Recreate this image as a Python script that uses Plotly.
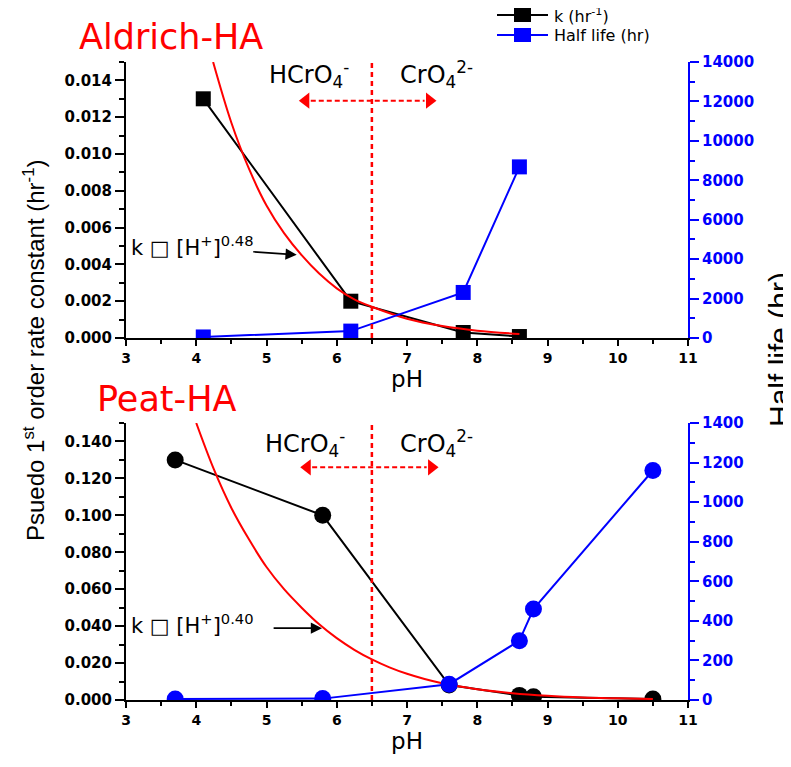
import plotly.graph_objects as go

# ---------------- data ----------------
ph_aldrich = [4.1, 6.2, 7.8, 8.6]
k_aldrich = [0.0130, 0.0020, 0.0003, 0.00008]
halflife_aldrich = [53, 350, 2310, 8680]

fit_ph_aldrich = [4.24, 4.5, 4.75, 5.0, 5.25, 5.5, 5.75, 6.0, 6.25, 6.5, 7.0, 7.5, 8.0, 8.6]
fit_k_aldrich = [0.0150, 0.0117, 0.0092, 0.0072, 0.0057, 0.0045, 0.0035, 0.0027, 0.0021,
                 0.0017, 0.00105, 0.00065, 0.00040, 0.00022]

ph_peat = [3.7, 5.8, 7.6, 8.6, 8.8, 10.5]
k_peat = [0.130, 0.100, 0.0081, 0.0025, 0.0018, 0.0005]
halflife_peat = [5, 7, 80, 300, 460, 1160]

fit_ph_peat = [4.0, 4.25, 4.5, 4.75, 5.0, 5.25, 5.5, 5.75, 6.0, 6.25, 6.5, 6.75, 7.0, 7.25,
               7.5, 7.75, 8.0, 8.5, 9.0, 9.5, 10.0, 10.5]
fit_k_peat = [0.150, 0.125, 0.104, 0.087, 0.072, 0.060, 0.050, 0.041, 0.0335, 0.0272, 0.0220,
              0.0177, 0.0142, 0.0114, 0.0091, 0.0073, 0.0058, 0.0037, 0.0023, 0.0014, 0.0009, 0.0005]

x_ticks = list(range(3, 12))
k_ticks_aldrich = [0.000, 0.002, 0.004, 0.006, 0.008, 0.010, 0.012, 0.014]
k_ticks_peat = [0.000, 0.020, 0.040, 0.060, 0.080, 0.100, 0.120, 0.140]
hl_ticks_aldrich = [0, 2000, 4000, 6000, 8000, 10000, 12000, 14000]
hl_ticks_peat = [0, 200, 400, 600, 800, 1000, 1200, 1400]

legend_names = ["k (hr<sup>-1</sup>)", "Half life (hr)"]
legend_colors = ["black", "blue"]

pka_ph = 6.5

# ---------------- figure ----------------
OFF = 8                # page body margin
W, H = 791 - OFF, 767 - OFF
TICKFONT = "DejaVu Sans"
TXT = "DejaVu Sans"

fig = go.Figure()

# Aldrich
fig.add_trace(go.Scatter(x=ph_aldrich, y=k_aldrich, mode="lines+markers", name=legend_names[0],
                         line=dict(color="black", width=2),
                         marker=dict(symbol="square", size=15, color="black"),
                         xaxis="x", yaxis="y"))
fig.add_trace(go.Scatter(x=fit_ph_aldrich, y=fit_k_aldrich, mode="lines",
                         line=dict(color="red", width=2, shape="spline"),
                         xaxis="x", yaxis="y"))
fig.add_trace(go.Scatter(x=ph_aldrich, y=halflife_aldrich, mode="lines+markers", name=legend_names[1],
                         line=dict(color="blue", width=2),
                         marker=dict(symbol="square", size=15, color="blue"),
                         xaxis="x", yaxis="y2"))
# Peat
fig.add_trace(go.Scatter(x=ph_peat, y=k_peat, mode="lines+markers",
                         line=dict(color="black", width=2),
                         marker=dict(symbol="circle", size=17, color="black"),
                         xaxis="x2", yaxis="y3"))
fig.add_trace(go.Scatter(x=fit_ph_peat, y=fit_k_peat, mode="lines",
                         line=dict(color="red", width=2, shape="spline"),
                         xaxis="x2", yaxis="y3"))
fig.add_trace(go.Scatter(x=ph_peat, y=halflife_peat, mode="lines+markers",
                         line=dict(color="blue", width=2),
                         marker=dict(symbol="circle", size=17, color="blue"),
                         xaxis="x2", yaxis="y4"))


def px_x(p):
    return (p - OFF) / W


def px_y(p):
    return 1 - (p - OFF) / H


xdom = [px_x(126), px_x(688)]
top_dom = [px_y(338), px_y(62)]
bot_dom = [px_y(700), px_y(423)]

tickfont_x = dict(family=TICKFONT, size=14, color="black", weight="bold")
tickfont_y = dict(family=TICKFONT, size=15, color="black", weight="bold")
tickfont_b = dict(family=TICKFONT, size=15, color="blue", weight="bold")


def xaxis(anchor):
    return dict(domain=xdom, range=[3, 11], tickvals=x_ticks, ticks="outside", ticklen=6, tickwidth=2,
                tickcolor="black", showline=True, linecolor="black", linewidth=2, showgrid=False,
                zeroline=False, tickfont=tickfont_x, anchor=anchor, automargin=False,
                minor=dict(dtick=0.5, ticks="outside", ticklen=4, tickwidth=2, tickcolor="black", showgrid=False),
                title=dict(text="pH", font=dict(family=TXT, size=23, color="black"), standoff=0))


def kaxis(dom, rng, tv, minor_dt, anchor):
    return dict(domain=dom, range=rng, tickvals=tv, tickformat=".3f", ticks="outside", ticklen=9, tickwidth=2,
                tickcolor="black", showline=True, linecolor="black", linewidth=2, showgrid=False,
                zeroline=False, tickfont=tickfont_y, anchor=anchor, automargin=False,
                minor=dict(dtick=minor_dt, ticks="outside", ticklen=5, tickwidth=2, tickcolor="black", showgrid=False))


def hlaxis(rng, tv, minor_dt, overlay, anchor):
    return dict(range=rng, tickvals=tv, tickformat="d", ticks="outside", ticklen=9, tickwidth=2, tickcolor="blue",
                showline=True, linecolor="blue", linewidth=2, showgrid=False, zeroline=False,
                tickfont=tickfont_b, overlaying=overlay, side="right", anchor=anchor, automargin=False,
                minor=dict(dtick=minor_dt, ticks="outside", ticklen=5, tickwidth=2, tickcolor="blue", showgrid=False))


fig.update_layout(
    width=W, height=H, margin=dict(l=0, r=0, t=0, b=0, autoexpand=False),
    plot_bgcolor="white", paper_bgcolor="white",
    xaxis=xaxis("y"),
    yaxis=kaxis(top_dom, [0, 0.015], k_ticks_aldrich, 0.001, "x"),
    yaxis2=hlaxis([0, 14000], hl_ticks_aldrich, 1000, "y", "x"),
    xaxis2=xaxis("y3"),
    yaxis3=kaxis(bot_dom, [0, 0.15], k_ticks_peat, 0.01, "x2"),
    yaxis4=hlaxis([0, 1400], hl_ticks_peat, 100, "y3", "x2"),
    showlegend=False,
)


def note(x, y, text, font, **kw):
    fig.add_annotation(xref="paper", yref="paper", x=px_x(x), y=px_y(y), text=text, showarrow=False,
                       xanchor=kw.pop("xanchor", "center"), yanchor=kw.pop("yanchor", "middle"),
                       font=font, **kw)


# manual legend
for i, (name, col) in enumerate(zip(legend_names, legend_colors)):
    yc = 15 + 20 * i
    fig.add_shape(type="line", xref="paper", yref="paper", x0=px_x(497), x1=px_x(548),
                  y0=px_y(yc), y1=px_y(yc), line=dict(color=col, width=2))
    fig.add_shape(type="rect", xref="paper", yref="paper", x0=px_x(514), x1=px_x(531),
                  y0=px_y(yc + 7), y1=px_y(yc - 7), fillcolor=col, line=dict(width=0))
    note(552, yc, name, dict(family=TXT, size=16, color="black"), xanchor="left")

# vertical dotted pKa lines
for xr, yr in (("x", "y domain"), ("x2", "y3 domain")):
    fig.add_shape(type="line", xref=xr, yref=yr, x0=pka_ph, x1=pka_ph, y0=0, y1=1,
                  line=dict(color="red", width=2.5, dash="5px,4px"))

# species arrows and labels
species = [
    ("x", "y", 0.0129, 0.0143, 5.48, 7.40, 5.60, 7.42),
    ("x2", "y3", 0.126, 0.139, 5.50, 7.43, 5.55, 7.42),
]
for xr, yr, ay, ty, xl, xrgt, hx, cx in species:
    fig.add_shape(type="line", xref=xr, yref=yr, x0=xl + 0.15, x1=xrgt - 0.15, y0=ay, y1=ay,
                  line=dict(color="red", width=2, dash="5px,3px"))
    fig.add_trace(go.Scatter(x=[xl + 0.08, xrgt - 0.08], y=[ay, ay], mode="markers",
                             marker=dict(symbol=["triangle-left", "triangle-right"], size=14, color="red"),
                             xaxis=xr, yaxis=yr, hoverinfo="skip"))
    fig.add_annotation(xref=xr, yref=yr, x=hx, y=ty, text="HCrO<sub>4</sub><sup>-</sup>", showarrow=False,
                       xanchor="center", yanchor="middle", font=dict(family=TXT, size=24, color="black"))
    fig.add_annotation(xref=xr, yref=yr, x=cx, y=ty, text="CrO<sub>4</sub><sup>2-</sup>", showarrow=False,
                       xanchor="center", yanchor="middle", font=dict(family=TXT, size=24, color="black"))

# fit labels with arrows
fits = [
    ("x", "y", "k \u25a1 [H<sup>+</sup>]<sup>0.48</sup>", 3.95, 0.0050, 4.79, 0.00469, 5.43, 0.00452),
    ("x2", "y3", "k \u25a1 [H<sup>+</sup>]<sup>0.40</sup>", 3.95, 0.041, 5.08, 0.0389, 5.79, 0.0389),
]
for xr, yr, txt, tx, ty, x0, y0, x1, y1 in fits:
    fig.add_annotation(xref=xr, yref=yr, x=tx, y=ty, text=txt, showarrow=False,
                       xanchor="center", yanchor="middle", font=dict(family=TXT, size=21, color="black"))
    fig.add_annotation(xref=xr, yref=yr, axref=xr, ayref=yr, x=x1, y=y1, ax=x0, ay=y0, text="",
                       showarrow=True, arrowhead=2, arrowsize=1.4, arrowwidth=1.6, arrowcolor="black")

# panel titles
note(171, 37, "Aldrich-HA", dict(family=TXT, size=35, color="red"))
note(167, 399, "Peat-HA", dict(family=TXT, size=35, color="red"))

# axis titles
note(34, 350, "Psuedo 1<sup>st</sup> order rate constant (hr<sup>-1</sup>)",
     dict(family="Liberation Sans", size=24, color="black"), textangle=-90)
note(779, 350, "Half life (hr)", dict(family="Liberation Sans", size=30, color="black"), textangle=-90)

fig.write_html("out.html")
